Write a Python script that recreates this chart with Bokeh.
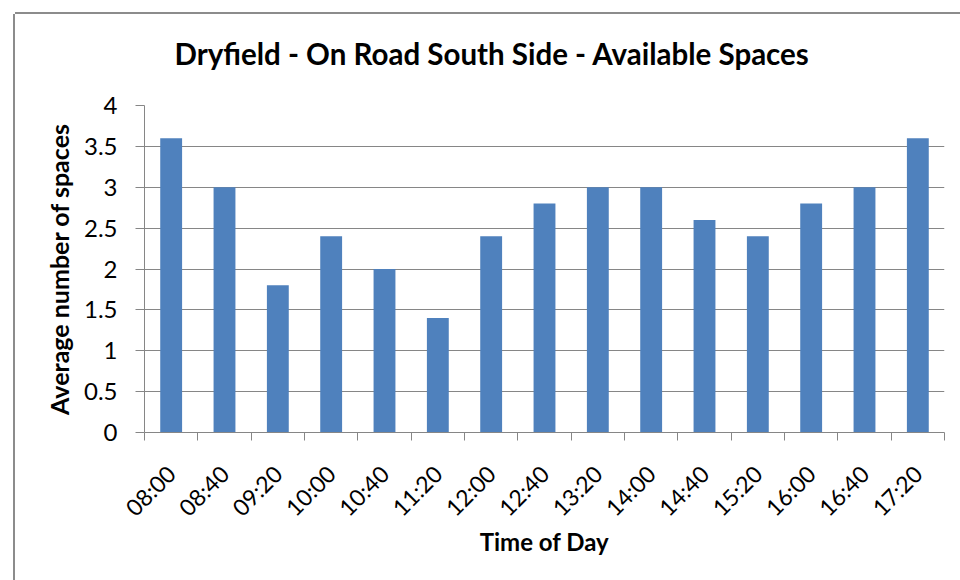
import math
from bokeh.plotting import figure
from bokeh.models import FixedTicker, Range1d, ColumnDataSource, Title
from bokeh.embed import file_html
from bokeh.resources import INLINE

times = ["08:00", "08:40", "09:20", "10:00", "10:40", "11:20", "12:00", "12:40",
         "13:20", "14:00", "14:40", "15:20", "16:00", "16:40", "17:20"]
spaces = [3.6, 3.0, 1.8, 2.4, 2.0, 1.4, 2.4, 2.8, 3.0, 3.0, 2.6, 2.4, 2.8, 3.0, 3.6]
y_ticks = [0, 0.5, 1, 1.5, 2, 2.5, 3, 3.5, 4]
y_tick_labels = ["0", "0.5", "1", "1.5", "2", "2.5", "3", "3.5", "4"]
title_text = "Dryfield - On Road South Side - Available Spaces"

FONT = "Lato"
GREY = "#868686"

n = len(times)
centers = [i + 0.5 for i in range(n)]
src = ColumnDataSource(dict(x=centers, top=spaces))

p = figure(width=945, height=566, output_backend="svg", toolbar_location=None,
           x_range=Range1d(0, n), y_range=Range1d(0, 4),
           min_border_left=129, min_border_right=16, min_border_top=91, min_border_bottom=148)

p.styles = {"margin-left": "15px", "margin-top": "14px",
            "box-shadow": "-2px 0px 0px 0px #8c8c8c, 0px -2px 0px 0px #8c8c8c"}

p.vbar(x="x", top="top", width=0.41, source=src, fill_color="#4F81BD", line_color=None)

p.outline_line_color = None
p.background_fill_color = "white"
p.border_fill_color = "white"

# blank (white) spacer next to the plot area, then the title above it
spacer = Title(text=".", text_font_size="1px", text_color="white", standoff=32)
main_title = Title(text=title_text, text_font=FONT, text_font_style="bold",
                   text_font_size="29.5px", align="left", offset=30, standoff=0,
                   text_color="black")
p.add_layout(spacer, "above")
p.add_layout(main_title, "above")

# X axis
p.xaxis.ticker = FixedTicker(ticks=centers, minor_ticks=list(range(n + 1)))
p.xaxis.major_label_overrides = {c: t for c, t in zip(centers, times)}
p.xaxis.major_label_orientation = math.pi / 4
p.xaxis.major_tick_out = 0
p.xaxis.major_tick_in = 0
p.xaxis.minor_tick_out = 8
p.xaxis.minor_tick_in = 0
p.xaxis.minor_tick_line_color = GREY
p.xaxis.axis_line_color = GREY
p.xaxis.major_label_text_font = FONT
p.xaxis.major_label_text_font_size = "23px"
p.xaxis.major_label_text_color = "black"
p.xaxis.major_label_standoff = 29
p.xaxis.axis_label = "Time of Day"
p.xaxis.axis_label_text_font = FONT
p.xaxis.axis_label_text_font_style = "bold"
p.xaxis.axis_label_text_font_size = "24px"
p.xaxis.axis_label_text_color = "black"
p.xaxis.axis_label_standoff = -7

# Y axis
p.yaxis.ticker = FixedTicker(ticks=y_ticks, minor_ticks=[])
p.yaxis.major_label_overrides = {v: s for v, s in zip(y_ticks, y_tick_labels)}
p.yaxis.major_tick_out = 9
p.yaxis.major_tick_in = 0
p.yaxis.major_tick_line_color = GREY
p.yaxis.minor_tick_line_color = None
p.yaxis.axis_line_color = GREY
p.yaxis.major_label_text_font = FONT
p.yaxis.major_label_text_font_size = "24px"
p.yaxis.major_label_text_color = "black"
p.yaxis.major_label_standoff = 18
p.yaxis.axis_label = "Average number of spaces"
p.yaxis.axis_label_text_font = FONT
p.yaxis.axis_label_text_font_style = "bold"
p.yaxis.axis_label_text_font_size = "25px"
p.yaxis.axis_label_text_color = "black"
p.yaxis.axis_label_standoff = 7

p.xgrid.grid_line_color = None
p.ygrid.grid_line_color = GREY
p.ygrid.grid_line_width = 1

open("out.html", "w").write(file_html(p, INLINE))
